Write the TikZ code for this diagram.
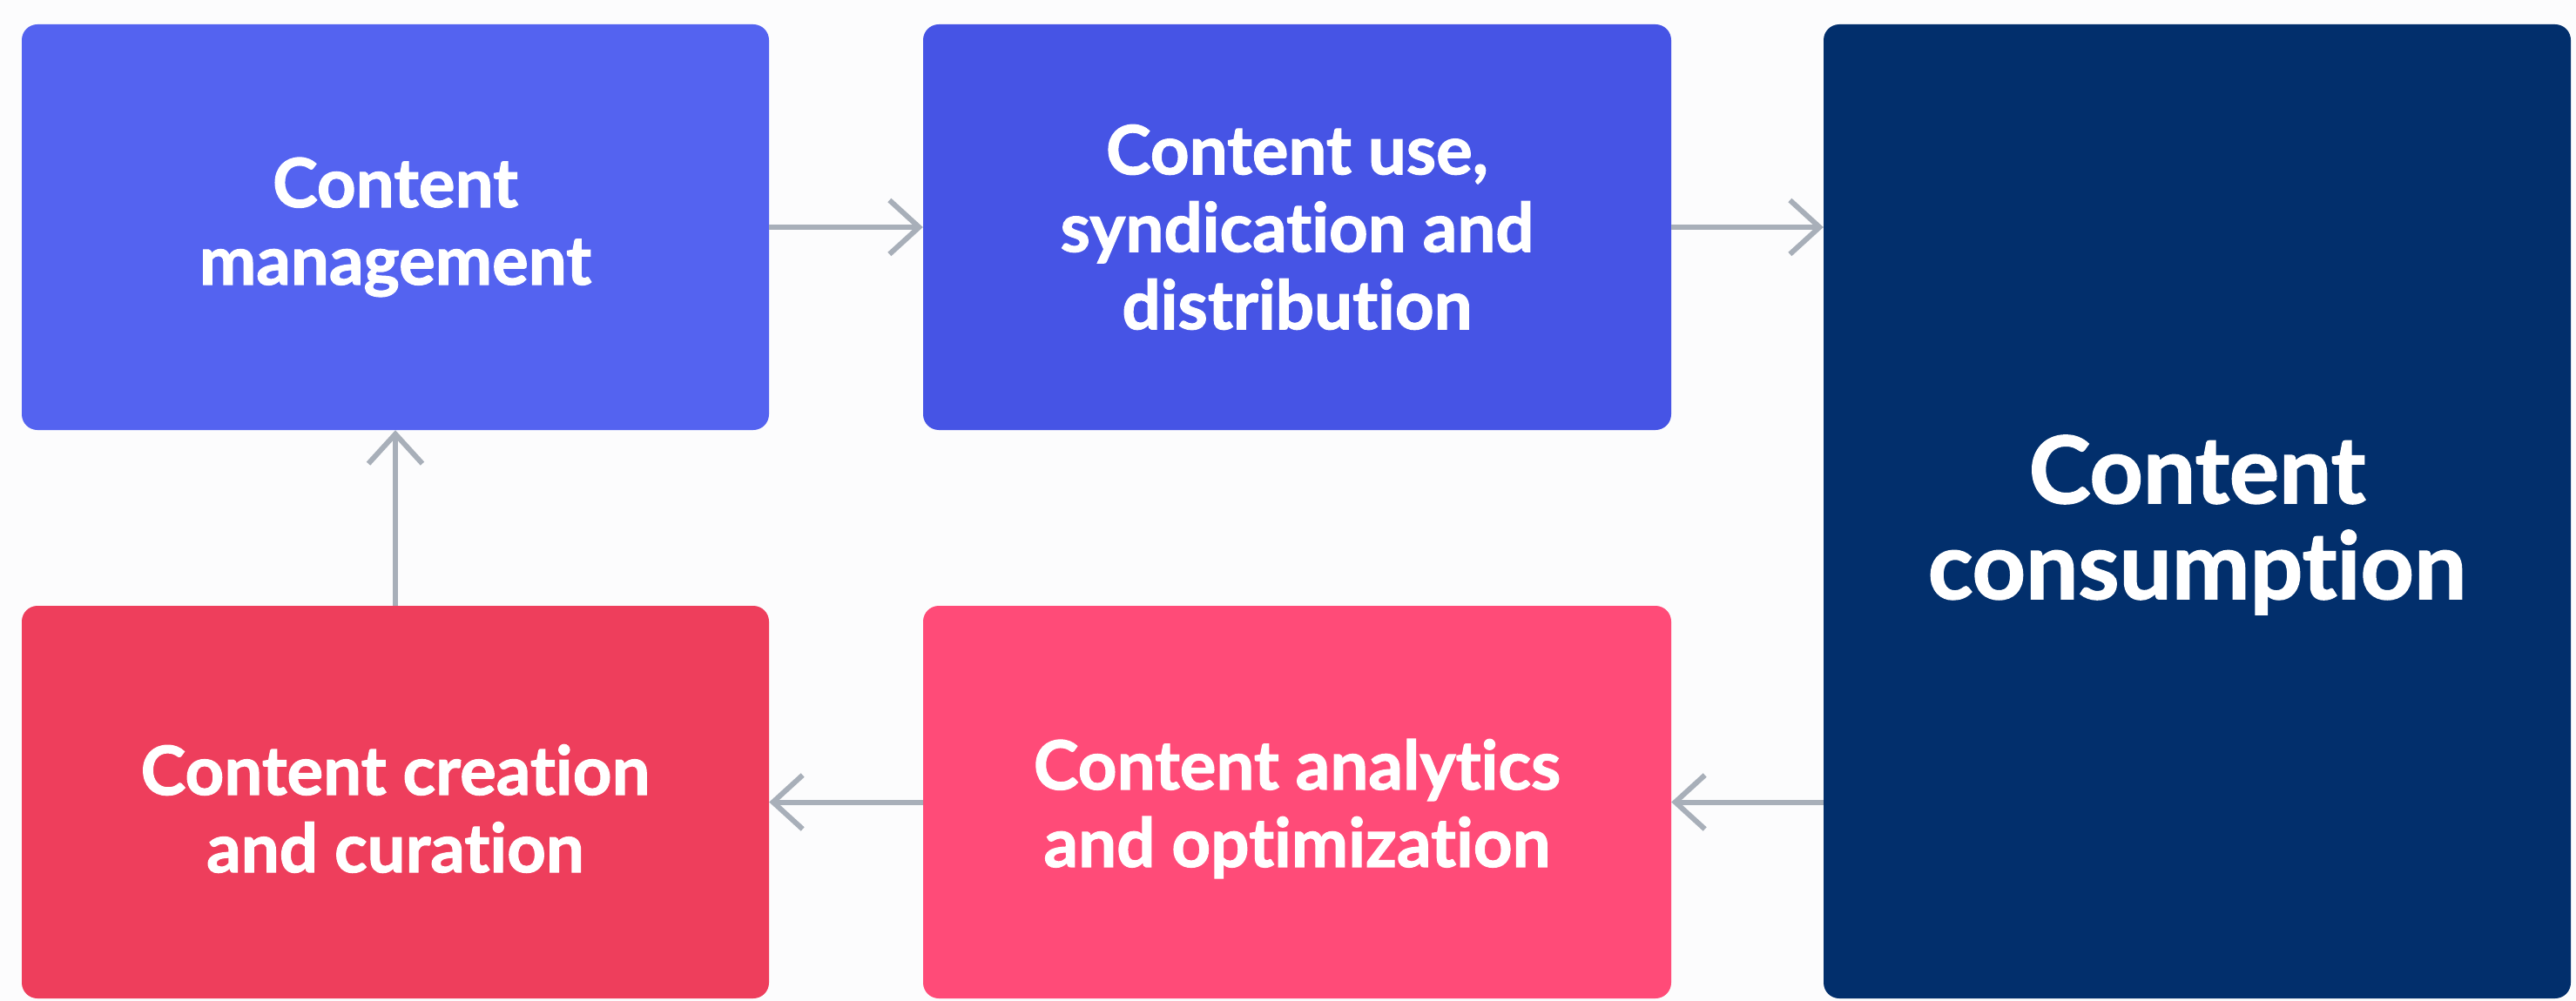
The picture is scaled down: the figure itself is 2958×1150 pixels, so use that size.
\documentclass[tikz,border=0pt]{standalone}
\usepackage{fontspec}
\setmainfont{Lato}[Ligatures=NoCommon,BoldFeatures={FakeBold=1.5}]
\usetikzlibrary{arrows.meta,positioning}
\definecolor{bgc}{HTML}{FCFCFD}
\definecolor{cmgmt}{HTML}{5463F0}
\definecolor{cuse}{HTML}{4654E5}
\definecolor{ccons}{HTML}{022F6C}
\definecolor{ccreate}{HTML}{EE3E5C}
\definecolor{canaly}{HTML}{FF4B78}
\definecolor{arrowc}{HTML}{A8AFB9}
\tikzset{
  card/.style={rectangle, rounded corners=18pt, inner sep=0pt, align=center,
    text=white, font=\fontsize{78}{89}\selectfont\bfseries},
  bigcard/.style={card, font=\fontsize{107}{110}\selectfont\bfseries},
  flow/.style={draw=arrowc, line width=6pt,
    -{Straight Barb[length=34pt,width=62pt,line width=6pt]}}
}
\begin{document}
\begin{tikzpicture}[x=1pt,y=-1pt]
\fill[bgc] (0,0) rectangle (2958,1150);
\useasboundingbox (0,0) rectangle (2958,1150);
\node[card, fill=cmgmt, minimum width=858pt, minimum height=466pt] (mgmt) at (454,261) {Content\\management};
\node[card, fill=cuse, minimum width=859pt, minimum height=466pt] (use) at (1489.5,261) {Content use,\\syndication and\\distribution};
\node[bigcard, fill=ccons, minimum width=858pt, minimum height=1119pt] (cons) at (2523,587.5) {};
\node[bigcard, text=white] (constext) at (2523,603) {Content\\consumption};
\node[card, fill=ccreate, minimum width=858pt, minimum height=451pt] (create) at (454,921.5) {};
\node[card] (createtext) at (454,929) {Content creation\\and curation};
\node[card, fill=canaly, minimum width=859pt, minimum height=451pt] (analy) at (1489.5,921.5) {};
\node[card] (analytext) at (1489.5,929) {Content analytics\\and optimization};
\draw[flow] (mgmt.east) -- (use.west);
\draw[flow] (use.east) -- (use.east -| cons.west);
\draw[flow] (cons.west |- analy.east) -- (analy.east);
\draw[flow] (analy.west) -- (create.east);
\draw[flow] (create.north) -- (mgmt.south);
\end{tikzpicture}
\end{document}
